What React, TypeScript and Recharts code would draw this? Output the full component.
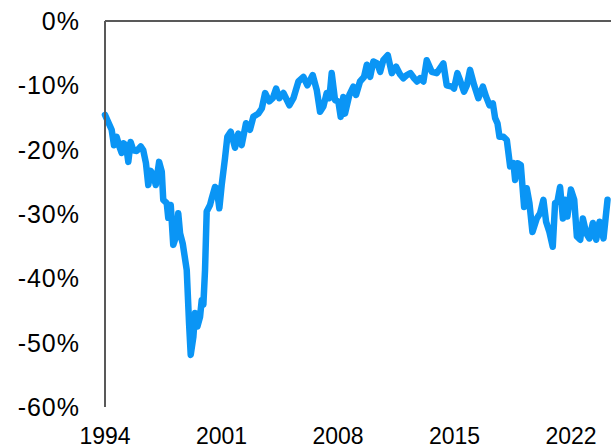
import { Line, LineChart, ReferenceLine, XAxis, YAxis } from 'recharts'

const years = [
	1994.0, 1994.4, 1994.54, 1994.7, 1994.86, 1995.0, 1995.1, 1995.26, 1995.4, 1995.54,
	1995.7, 1995.91, 1996.15, 1996.3, 1996.46, 1996.6, 1996.75, 1996.9, 1997.05, 1997.25,
	1997.41, 1997.5, 1997.71, 1997.8, 1997.95, 1998.1, 1998.27, 1998.4, 1998.51, 1998.67,
	1998.91, 1999.05, 1999.15, 1999.31, 1999.41, 1999.55, 1999.71, 1999.81, 1999.91, 2000.01,
	2000.11, 2000.31, 2000.41, 2000.61, 2000.71, 2000.87, 2001.01, 2001.21, 2001.35, 2001.55,
	2001.81, 2002.01, 2002.21, 2002.47, 2002.71, 2002.91, 2003.21, 2003.42, 2003.62, 2003.87,
	2004.08, 2004.28, 2004.47, 2004.72, 2005.08, 2005.32, 2005.62, 2005.92, 2006.16, 2006.48,
	2006.72, 2006.92, 2007.12, 2007.32, 2007.48, 2007.62, 2007.82, 2008.02, 2008.16, 2008.32,
	2008.42, 2008.68, 2008.92, 2009.08, 2009.32, 2009.56, 2009.73, 2009.93, 2010.12, 2010.36,
	2010.53, 2010.72, 2010.99, 2011.23, 2011.49, 2011.73, 2011.93, 2012.13, 2012.35, 2012.57,
	2012.75, 2012.93, 2013.13, 2013.33, 2013.63, 2013.93, 2014.33, 2014.53, 2014.84, 2014.97,
	2015.17, 2015.33, 2015.57, 2015.74, 2015.93, 2016.18, 2016.43, 2016.7, 2016.9, 2017.1,
	2017.3, 2017.44, 2017.58, 2017.7, 2017.94, 2018.14, 2018.34, 2018.54, 2018.64, 2018.78,
	2018.98, 2019.18, 2019.34, 2019.5, 2019.68, 2019.94, 2020.14, 2020.34, 2020.5, 2020.7,
	2020.9, 2021.04, 2021.18, 2021.34, 2021.51, 2021.64, 2021.78, 2021.99, 2022.19, 2022.35,
	2022.55, 2022.71, 2022.91, 2023.1, 2023.31, 2023.51, 2023.71, 2023.95, 2024.19,
]

const gap = [
	-14.6, -16.9, -19.3, -18.0, -19.5, -20.5, -19.0, -19.3, -21.9, -18.8,
	-20.1, -20.2, -19.5, -20.1, -22.1, -25.5, -23.3, -23.9, -25.5, -21.9,
	-23.4, -27.8, -28.3, -30.6, -28.6, -34.8, -33.5, -29.9, -33.0, -34.6,
	-38.7, -47.0, -51.9, -49.1, -45.4, -47.5, -46.0, -43.4, -44.1, -38.7,
	-29.6, -28.6, -27.6, -25.8, -26.0, -29.1, -25.5, -21.3, -18.0, -17.2,
	-19.7, -17.5, -19.3, -15.9, -16.9, -14.9, -14.4, -13.6, -11.2, -12.5,
	-12.0, -10.5, -12.0, -11.2, -13.1, -12.0, -9.4, -8.7, -10.0, -8.4,
	-10.7, -14.1, -13.3, -11.2, -12.0, -8.1, -12.3, -12.5, -14.9, -11.8,
	-14.4, -11.5, -10.2, -11.5, -9.4, -8.7, -6.8, -8.7, -6.3, -6.6,
	-7.9, -6.1, -5.3, -8.1, -7.1, -8.3, -8.9, -8.4, -8.1, -8.9,
	-9.4, -8.9, -9.4, -6.1, -7.9, -8.1, -6.6, -10.0, -10.2, -10.5,
	-8.1, -9.2, -11.0, -10.0, -7.6, -10.0, -12.0, -10.2, -11.8, -13.1,
	-12.8, -15.1, -15.9, -18.0, -18.0, -18.5, -22.6, -22.1, -24.7, -22.1,
	-22.4, -28.9, -26.0, -28.3, -32.8, -30.7, -29.9, -27.8, -31.2, -32.8,
	-35.1, -28.3, -28.1, -25.8, -30.7, -27.8, -30.4, -26.2, -27.8, -33.5,
	-34.0, -30.7, -33.0, -33.8, -31.4, -34.0, -31.2, -33.8, -27.8,
]

const xTicks = [1994, 2001, 2008, 2015, 2022]
const yTicks = [-60, -50, -40, -30, -20, -10, 0]

const data = years.map((year, i) => ({ year, value: gap[i] }))

const FONT = '"Liberation Sans", Arial, sans-serif'

const App = () => {
	return (
		<div style={{ position: 'absolute', left: 0, top: 0 }}>
			<LineChart width={611} height={448} data={data} margin={{ top: 21, right: 0, left: 0, bottom: 0 }}>
				<XAxis
					dataKey='year'
					type='number'
					domain={[1994, 2024.4]}
					ticks={xTicks}
					axisLine={false}
					tickLine={false}
					tickSize={0}
					tickMargin={21}
					height={41}
					interval={0}
					tick={{ fill: '#000', fontSize: 23, fontFamily: FONT }}
				/>
				<YAxis
					type='number'
					domain={[-60, 0]}
					ticks={yTicks}
					width={105}
					tickLine={false}
					tickSize={0}
					tickMargin={25}
					interval={0}
					axisLine={{ stroke: '#595959', strokeWidth: 2 }}
					tickFormatter={(v: number) => `${v}%`}
					tick={{ fill: '#000', fontSize: 25, fontFamily: FONT, letterSpacing: 1 }}
				/>
				<ReferenceLine y={0} stroke='#595959' strokeWidth={2} />
				<Line
					type='linear'
					dataKey='value'
					stroke='#0A95F5'
					strokeWidth={6.5}
					strokeLinejoin='round'
					strokeLinecap='round'
					dot={false}
					isAnimationActive={false}
				/>
			</LineChart>
		</div>
	)
}

export default App
